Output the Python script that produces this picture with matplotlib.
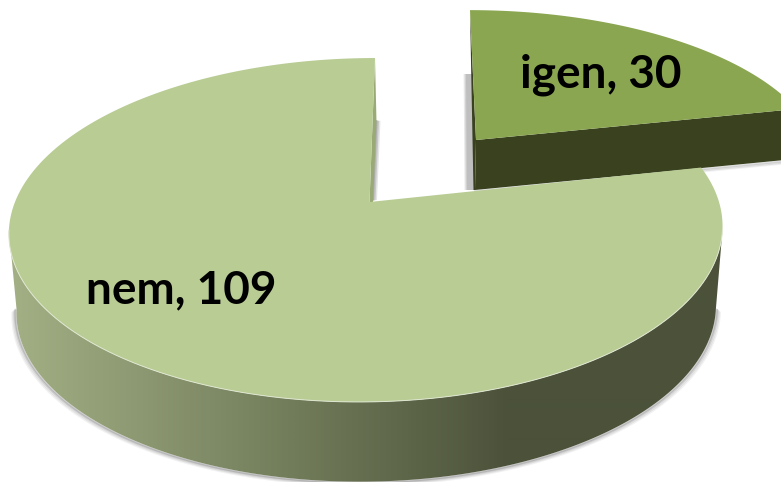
import numpy as np
import matplotlib
matplotlib.use("Agg")
import matplotlib.pyplot as plt
from matplotlib.patches import Polygon
from matplotlib.colors import LinearSegmentedColormap

categories = ["igen", "nem"]
values = [30, 109]

TOP_LIGHT = "#b8cc94"
TOP_SMALL = "#8aa650"
SIDE_SMALL = "#39411f"
K = 0.1628

plt.rcParams['font.family'] = ['Lato', 'DejaVu Sans']
fig = plt.figure(figsize=(7.81, 4.82), dpi=100, facecolor="white")
ax = fig.add_axes([0, 0, 1, 1])


def project(theta_deg, cx, cy, a, b, s=0.0):
    th = np.radians(theta_deg)
    x, t = np.cos(th), np.sin(th)
    d = 1 + K * t
    return np.column_stack([cx + b * x / d + s * t, cy - a * t / d])


total = sum(values)
sweep_small = 360 * values[0] / total
start = 90.0
mid = start - sweep_small
end = start - 360.0

# ---- small exploded slice (igen)
th_s = np.linspace(start, mid, 120)
S_TOP = dict(cx=476, cy=140, a=151, b=341, s=-6)
S_BOT = dict(cx=475, cy=190, a=151, b=341, s=-6)
rim_top = project(th_s, **S_TOP)
rim_bot = project(th_s, **S_BOT)
apex_t, apex_b = np.array([476, 140]), np.array([475, 190])
for w, al in ((0, .22), (1.2, .22), (2.4, .18)):
    ax.add_patch(Polygon([(466 - w, 74), (472, 74), (475, 190), (467 - w, 190)],
                         fc="#808080", ec="none", alpha=al, zorder=1))
for off, al in ((3.5, .08), (2.5, .12), (1.2, .2)):
    line = np.vstack([apex_b, rim_bot[-1]]) + [0, off]
    ax.plot(line[:, 0], line[:, 1], color="#555555", alpha=al, lw=1.5, zorder=1)
ax.add_patch(Polygon(np.vstack([apex_t, rim_top[-1], rim_bot[-1], apex_b]),
                     fc=SIDE_SMALL, ec="none", zorder=2))
ax.add_patch(Polygon([rim_top[0], apex_t, apex_b, (473.5, 190)],
                     fc=SIDE_SMALL, ec="none", zorder=2))
ax.add_patch(Polygon(np.vstack([apex_t, rim_top]), fc=TOP_SMALL, ec="none", zorder=3))

# ---- large slice (nem)
th_l = np.linspace(mid, end, 720)
L_TOP = dict(cx=367, cy=202, a=167.4, b=352, s=8)
L_BOT = dict(cx=367.5, cy=281, a=168, b=345, s=8)
rim_top = project(th_l, **L_TOP)
rim_bot = project(th_l, **L_BOT)

# soft shadow under the side wall
front = np.radians(th_l)
mask = np.sin(front) < -0.16
for off, al in ((4.5, .07), (3.2, .10), (2, .16), (1, .25)):
    ax.plot(rim_bot[mask, 0] + off * np.cos(front[mask]) * 0.9,
            rim_bot[mask, 1] + off * 0.8, color="#444444", alpha=al, lw=1.6,
            zorder=4, solid_capstyle="round")

# side wall: smooth horizontal gradient clipped to the wall outline
side_cmap = LinearSegmentedColormap.from_list(
    "side", [(0, "#a3b085"), (0.40, "#717c5a"), (0.70, "#4c523a"), (1, "#4c523a")])
# widest points of the projected rims lie slightly in front of the centre line
outline_bot = project(np.linspace(189.4, 350.6, 360), **L_BOT)
outline_top = project(np.linspace(350.6, 189.4, 360), **L_TOP)
wall = Polygon(np.vstack([outline_bot, outline_top]), fc="none", ec="none",
               transform=ax.transData)
ax.add_patch(wall)
grad = np.linspace(0, 1, 716)[None, :]
im = ax.imshow(grad, cmap=side_cmap, extent=(8, 724, 482, 200), aspect="auto",
               zorder=5, interpolation="bilinear")
im.set_clip_path(wall)

# inner cut wall and its shadow
for w, al in ((0, .35), (1.5, .3), (3, .2)):
    ax.add_patch(Polygon([(376, 120), (377.5 + w, 121), (374 + w, 200), (372, 201)],
                         fc="#808080", ec="none", alpha=al, zorder=4))
apex = np.array([369.5, 202])
ax.add_patch(Polygon([rim_top[-1], (376.5, 122), (373, 202), apex],
                     fc="#9aaa76", ec="none", zorder=5))

# top face
ax.add_patch(Polygon(np.vstack([apex, rim_top]), fc=TOP_LIGHT, ec="none", zorder=6))
vis = np.sin(np.radians(th_l)) < -0.16
ax.plot(rim_top[vis, 0], rim_top[vis, 1], color="#dfe6d0", lw=0.7, zorder=7)

# ---- labels
ax.text(601, 87, f"{categories[0]}, {values[0]}", ha="center", va="baseline",
        fontsize=33, fontweight="bold", color="black", zorder=8)
ax.text(181, 303, f"{categories[1]}, {values[1]}", ha="center", va="baseline",
        fontsize=33, fontweight="bold", color="black", zorder=8)

ax.set_xlim(0, 781)
ax.set_ylim(482, 0)
ax.axis("off")
fig.savefig("out.png", dpi=100, facecolor="white")
